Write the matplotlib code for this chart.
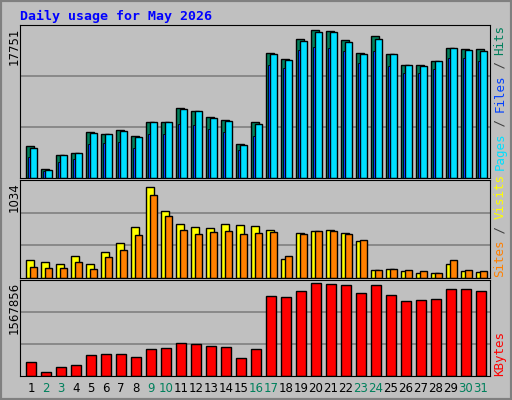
import matplotlib
matplotlib.use("Agg")
import matplotlib.pyplot as plt
import numpy as np

days = list(range(1, 32))
weekend = [2, 3, 9, 10, 16, 17, 23, 24, 30, 31]
S1 = 17751 / 148
hits_px = [32, 9, 23, 25, 46, 44, 48, 42, 56, 56, 70, 67, 61, 58, 34, 56,
           125, 119, 139, 148, 147, 138, 125, 142, 124, 113, 113, 117, 130, 129, 129]
cyan_px = [30, 8, 23, 25, 45, 44, 47, 41, 56, 56, 69, 67, 60, 57, 33, 54,
           124, 118, 137, 146, 146, 136, 124, 139, 124, 113, 112, 117, 130, 128, 127]
blue_px = [21, 7, 16, 19, 34, 35, 36, 30, 44, 44, 54, 53, 49, 46, 28, 42,
           113, 110, 128, 131, 130, 127, 115, 127, 112, 105, 105, 109, 120, 120, 117]
hits = [round(v * S1) for v in hits_px]
pages = [round(v * S1) for v in cyan_px]
files = [round(v * S1) for v in blue_px]

S2 = 1034 / 276
visits_px = [55, 49, 43, 67, 43, 79, 106, 154, 276, 202, 163, 154, 151, 163, 160, 157,
             145, 58, 136, 142, 145, 136, 112, 25, 28, 22, 16, 16, 43, 22, 19]
sites_px = [34, 31, 31, 49, 28, 64, 85, 130, 253, 187, 145, 133, 139, 142, 133, 136,
            139, 67, 133, 142, 142, 133, 115, 25, 28, 25, 22, 16, 55, 25, 22]
visits = [round(v * S2) for v in visits_px]
sites = [round(v * S2) for v in sites_px]

S3 = 1567856 / 274
kb_px = [40, 13, 28, 34, 61, 64, 64, 55, 79, 82, 97, 94, 88, 85, 52, 79,
         238, 235, 250, 274, 271, 268, 247, 268, 241, 223, 226, 229, 256, 256, 250]
kbytes = [round(v * S3) for v in kb_px]

W, H = 512, 400
fig = plt.figure(figsize=(W / 100, H / 100), dpi=100)
fig.patch.set_facecolor("#c0c0c0")
fig.patches.append(plt.Rectangle((0, 0), 1, 1, transform=fig.transFigure, fill=False,
                                 edgecolor="#808080", lw=3))

def ax_px(l, t, r, b):
    return fig.add_axes([l / W, 1 - b / H, (r - l) / W, (b - t) / H])

x = np.array(days, dtype=float)
xl = (1 - 11 / 15, 31 + 9 / 15)
bkw = dict(edgecolor="black", linewidth=1, align="edge")

def style(ax, top, label, ytop):
    ax.set_facecolor("#c0c0c0")
    ax.set_xlim(*xl)
    ax.set_ylim(0, top)
    ax.set_xticks([])
    ax.set_yticks([])
    for y in (top / 3, 2 * top / 3):
        ax.axhline(y, color="#808080", lw=1.2, zorder=0)
    for s in ax.spines.values():
        s.set_color("black")
    fig.text(14 / W, 1 - ytop / H, label, rotation=90, ha="center",
             va="top", fontsize=8.5, family="DejaVu Sans")

a1 = ax_px(20, 25, 490, 178)
top1 = 17751 * 153 / 148
a1.bar(x - 0.33, hits, 0.53, color="#00805c", **bkw)
a1.bar(x - 0.07, pages, 0.5, color="#00e0ff", **bkw)
a1.bar(x - 0.2, files, 0.13, color="#0040ff", edgecolor="black", linewidth=0.6, align="edge")
style(a1, top1, "17751", 28)

a2 = ax_px(20, 180, 490, 278)
top2 = 1034 * 99 / 92
a2.bar(x - 0.33, visits, 0.55, color="#ffff00", **bkw)
a2.bar(x - 0.07, sites, 0.5, color="#ff8000", **bkw)
style(a2, top2, "1034", 182)

a3 = ax_px(20, 280, 490, 376)
top3 = 1567856 * 284 / 274
a3.bar(x - 0.33, kbytes, 0.66, color="#ff0000", **bkw)
style(a3, top3, "1567856", 282)

for d in days:
    fig.text((20 + (d - xl[0]) / (xl[1] - xl[0]) * 470) / W, 1 - 388 / H, str(d),
             ha="center", va="center", fontsize=8.5,
             color="#00805c" if d in weekend else "black")

fig.text(20 / W, 1 - 16 / H, "Daily usage for May 2026", color="#0000ff",
         fontsize=9.5, fontweight="bold", family="DejaVu Sans Mono", va="center")

def rlabel(parts, ybot):
    y = ybot
    for txt, col in parts:
        fig.text(500 / W, 1 - y / H, txt, rotation=90, color=col, fontsize=9,
                 family="DejaVu Sans Mono", ha="center", va="bottom")
        y -= len(txt) * 7.2

rlabel([("Pages", "#00e0ff"), (" / ", "#404040"), ("Files", "#0040ff"),
        (" / ", "#404040"), ("Hits", "#00805c")], 170)
rlabel([("Sites", "#ff8000"), (" / ", "#404040"), ("Visits", "#ffff00")], 277)
rlabel([("KBytes", "#ff0000")], 376)

fig.savefig("out.png", dpi=100, facecolor=fig.get_facecolor())
